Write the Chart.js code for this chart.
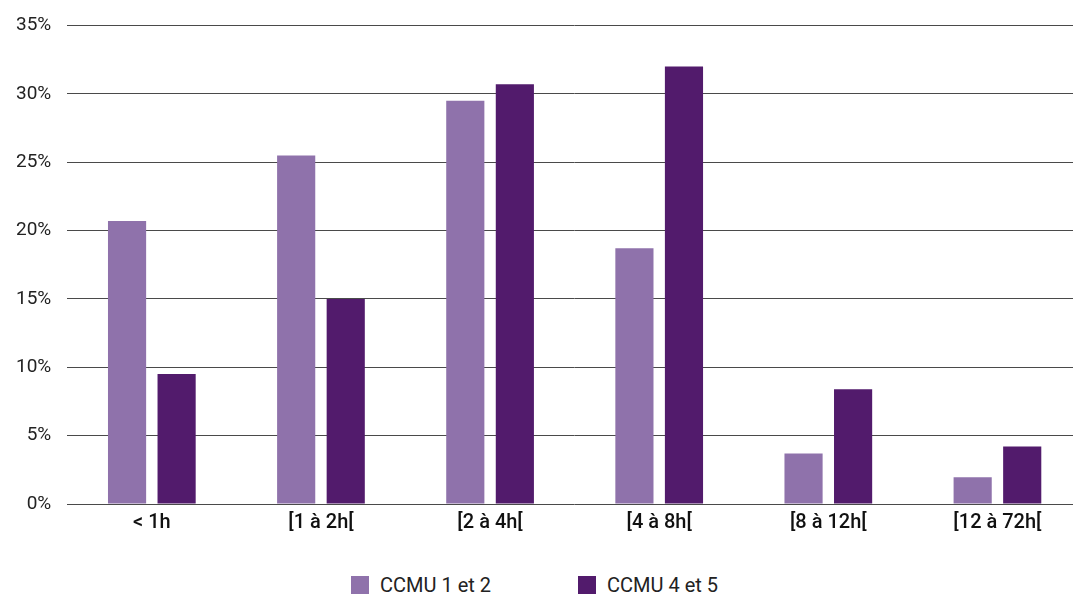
<!DOCTYPE html>
<html>
<head>
<meta charset="utf-8">
<script src="https://cdn.jsdelivr.net/npm/chart.js@4/dist/chart.umd.min.js"></script>
<style>
  html, body { margin: 0; padding: 0; background: #fff; overflow: hidden; }
  #wrap { position: relative; width: 1073px; height: 596px; overflow: hidden; }
  #cv { position: absolute; left: 0; top: 0; }
  #legend { position: absolute; top: 574px; left: 0; width: 1073px; height: 22px; font-family: Roboto, sans-serif; font-size: 20px; color: #222; }
  .item { position: absolute; top: 0; display: flex; align-items: center; height: 22px; }
  .box { width: 18px; height: 18px; margin-right: 11px; flex: none; }
</style>
</head>
<body>
<div id="wrap">
  <canvas id="cv" width="1082" height="560"></canvas>
  <div id="legend"></div>
</div>
<script>
const categories = ['< 1h', '[1 à 2h[', '[2 à 4h[', '[4 à 8h[', '[8 à 12h[', '[12 à 72h['];
const seriesNames = ['CCMU 1 et 2', 'CCMU 4 et 5'];
const ccmu12 = [20.7, 25.5, 29.5, 18.7, 3.7, 1.95];
const ccmu45 = [9.5, 15.0, 30.7, 32.0, 8.4, 4.2];
const colors = ['#8f72ab', '#521b6c'];
const yTicks = [0, 5, 10, 15, 20, 25, 30, 35];

new Chart(document.getElementById('cv'), {
  type: 'bar',
  data: {
    labels: categories,
    datasets: [
      { label: seriesNames[0], data: ccmu12, backgroundColor: colors[0], borderWidth: 0 },
      { label: seriesNames[1], data: ccmu45, backgroundColor: colors[1], borderWidth: 0 }
    ]
  },
  options: {
    responsive: false,
    animation: false,
    devicePixelRatio: 1,
    layout: { padding: { top: 0, left: 0, right: 0, bottom: 18 } },
    datasets: { bar: { categoryPercentage: 0.586, barPercentage: 0.77 } },
    plugins: { legend: { display: false }, tooltip: { enabled: false } },
    scales: {
      x: {
        grid: { display: false, drawTicks: false },
        border: { display: false },
        ticks: { color: '#111', padding: 7, font: { family: 'Roboto', size: 20, weight: 500 } }
      },
      y: {
        min: 0, max: 35,
        afterBuildTicks: (axis) => { axis.ticks = yTicks.map(v => ({ value: v })); },
        grid: { color: '#4a4a4a', lineWidth: 1, drawTicks: false },
        border: { display: false },
        ticks: { color: '#222', padding: 16, font: { family: 'Roboto', size: 19, lineHeight: 1.0 }, callback: v => v + '%' }
      }
    }
  }
});

const legend = document.getElementById('legend');
const legendX = [351, 578];
seriesNames.forEach((n, i) => {
  const it = document.createElement('div');
  it.className = 'item';
  it.style.left = legendX[i] + 'px';
  const b = document.createElement('div');
  b.className = 'box';
  b.style.background = colors[i];
  const t = document.createElement('span');
  t.textContent = n;
  it.appendChild(b); it.appendChild(t);
  legend.appendChild(it);
});
</script>
</body>
</html>
